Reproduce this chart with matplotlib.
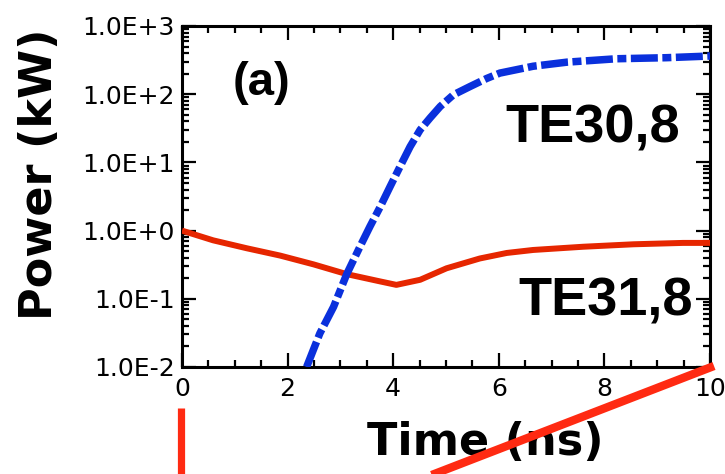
import matplotlib
matplotlib.use("Agg")
import matplotlib.pyplot as plt
from matplotlib.lines import Line2D
from matplotlib.ticker import FixedLocator, NullFormatter
import numpy as np

# ---- data ----
te30_t = [2.36, 2.61, 2.87, 3.12, 3.37, 3.56, 3.75, 3.94, 4.13, 4.32, 4.51,
          4.70, 4.89, 5.14, 5.45, 5.77, 6.02, 6.65, 7.29, 8.23, 9.18, 10.0]
te30_p = [0.010, 0.031, 0.076, 0.23, 0.58, 1.15, 2.2, 4.4, 8.7, 17, 30,
          45, 66, 98, 129, 170, 204, 257, 295, 331, 343, 363]

te31_t = [0.0, 0.59, 1.23, 1.86, 2.49, 3.12, 3.75, 4.06, 4.51, 5.01, 5.64,
          6.15, 6.65, 7.60, 8.55, 9.49, 10.0]
te31_p = [1.0, 0.72, 0.55, 0.43, 0.32, 0.23, 0.18, 0.16, 0.19, 0.28, 0.39,
          0.47, 0.52, 0.58, 0.63, 0.66, 0.66]

x_ticks = [0, 2, 4, 6, 8, 10]
x_tick_labels = ["0", "2", "4", "6", "8", "10"]
y_ticks = [1e-2, 1e-1, 1e0, 1e1, 1e2, 1e3]
y_tick_labels = ["1.0E-2", "1.0E-1", "1.0E+0", "1.0E+1", "1.0E+2", "1.0E+3"]

W, H = 725, 474
fig = plt.figure(figsize=(W / 100, H / 100), dpi=100)
ax = fig.add_axes([182 / W, 1 - 367 / H, (710 - 182) / W, (367 - 26) / H])

ax.plot(te31_t, te31_p, color="#e62600", lw=4.3, solid_capstyle="butt",
        solid_joinstyle="round", zorder=3)
ax.plot(te30_t, te30_p, color="#0a30dc", lw=5.4, dashes=(3.6, 0.6, 1.2, 0.6),
        dash_capstyle="butt", zorder=4)

ax.set_yscale("log")
ax.set_xlim(0, 10)
ax.set_ylim(1e-2, 1e3)

ax.set_xticks(x_ticks)
ax.set_xticklabels(x_tick_labels)
ax.xaxis.set_minor_locator(FixedLocator(np.arange(0, 10.01, 0.5)))
ax.set_yticks(y_ticks)
ax.set_yticklabels(y_tick_labels)
ax.yaxis.set_minor_locator(FixedLocator(
    [m * 10.0 ** e for e in range(-2, 3) for m in range(2, 10)]))
ax.yaxis.set_minor_formatter(NullFormatter())

for s in ax.spines.values():
    s.set_linewidth(2.2)
ax.tick_params(which="both", direction="in", top=True, right=True, width=1.6,
               colors="black")
ax.tick_params(which="major", length=10)
ax.tick_params(which="minor", length=5)
ax.tick_params(axis="y", which="major", labelsize=18, pad=5)
ax.tick_params(axis="x", which="major", labelsize=18, pad=7)
for lab in ax.get_xticklabels() + ax.get_yticklabels():
    lab.set_family("DejaVu Sans")

ax.text(0.095, 0.798, "(a)", transform=ax.transAxes, fontsize=34,
        fontweight="bold", family="Liberation Sans", ha="left", va="baseline")
ax.text(0.943, 0.657, "TE30,8", transform=ax.transAxes, fontsize=39,
        fontweight="bold", family="Liberation Sans", ha="right", va="baseline")
ax.text(0.968, 0.152, "TE31,8", transform=ax.transAxes, fontsize=39,
        fontweight="bold", family="Liberation Sans", ha="right", va="baseline")

fig.text(40 / W, 1 - 174 / H, "Power (kW)", rotation=90, fontsize=32,
         fontweight="bold", family="DejaVu Sans", ha="center", va="center")
fig.text(485 / W, 1 - 455 / H, "Time (ns)", fontsize=32,
         fontweight="bold", family="DejaVu Sans", ha="center", va="baseline")

# stray red strokes present in the reference image (below the axes)
fig.add_artist(Line2D([180.5 / W, 180.5 / W], [1 - 408 / H, -0.02],
                      color="#ff2a12", lw=5.2, transform=fig.transFigure,
                      solid_capstyle="butt", zorder=10))
fig.add_artist(Line2D([714 / W, 420 / W], [1 - 366 / H, 1 - 479.5 / H],
                      color="#ff2a12", lw=6.0, transform=fig.transFigure,
                      solid_capstyle="butt", zorder=10))

fig.savefig("out.png", dpi=100)
